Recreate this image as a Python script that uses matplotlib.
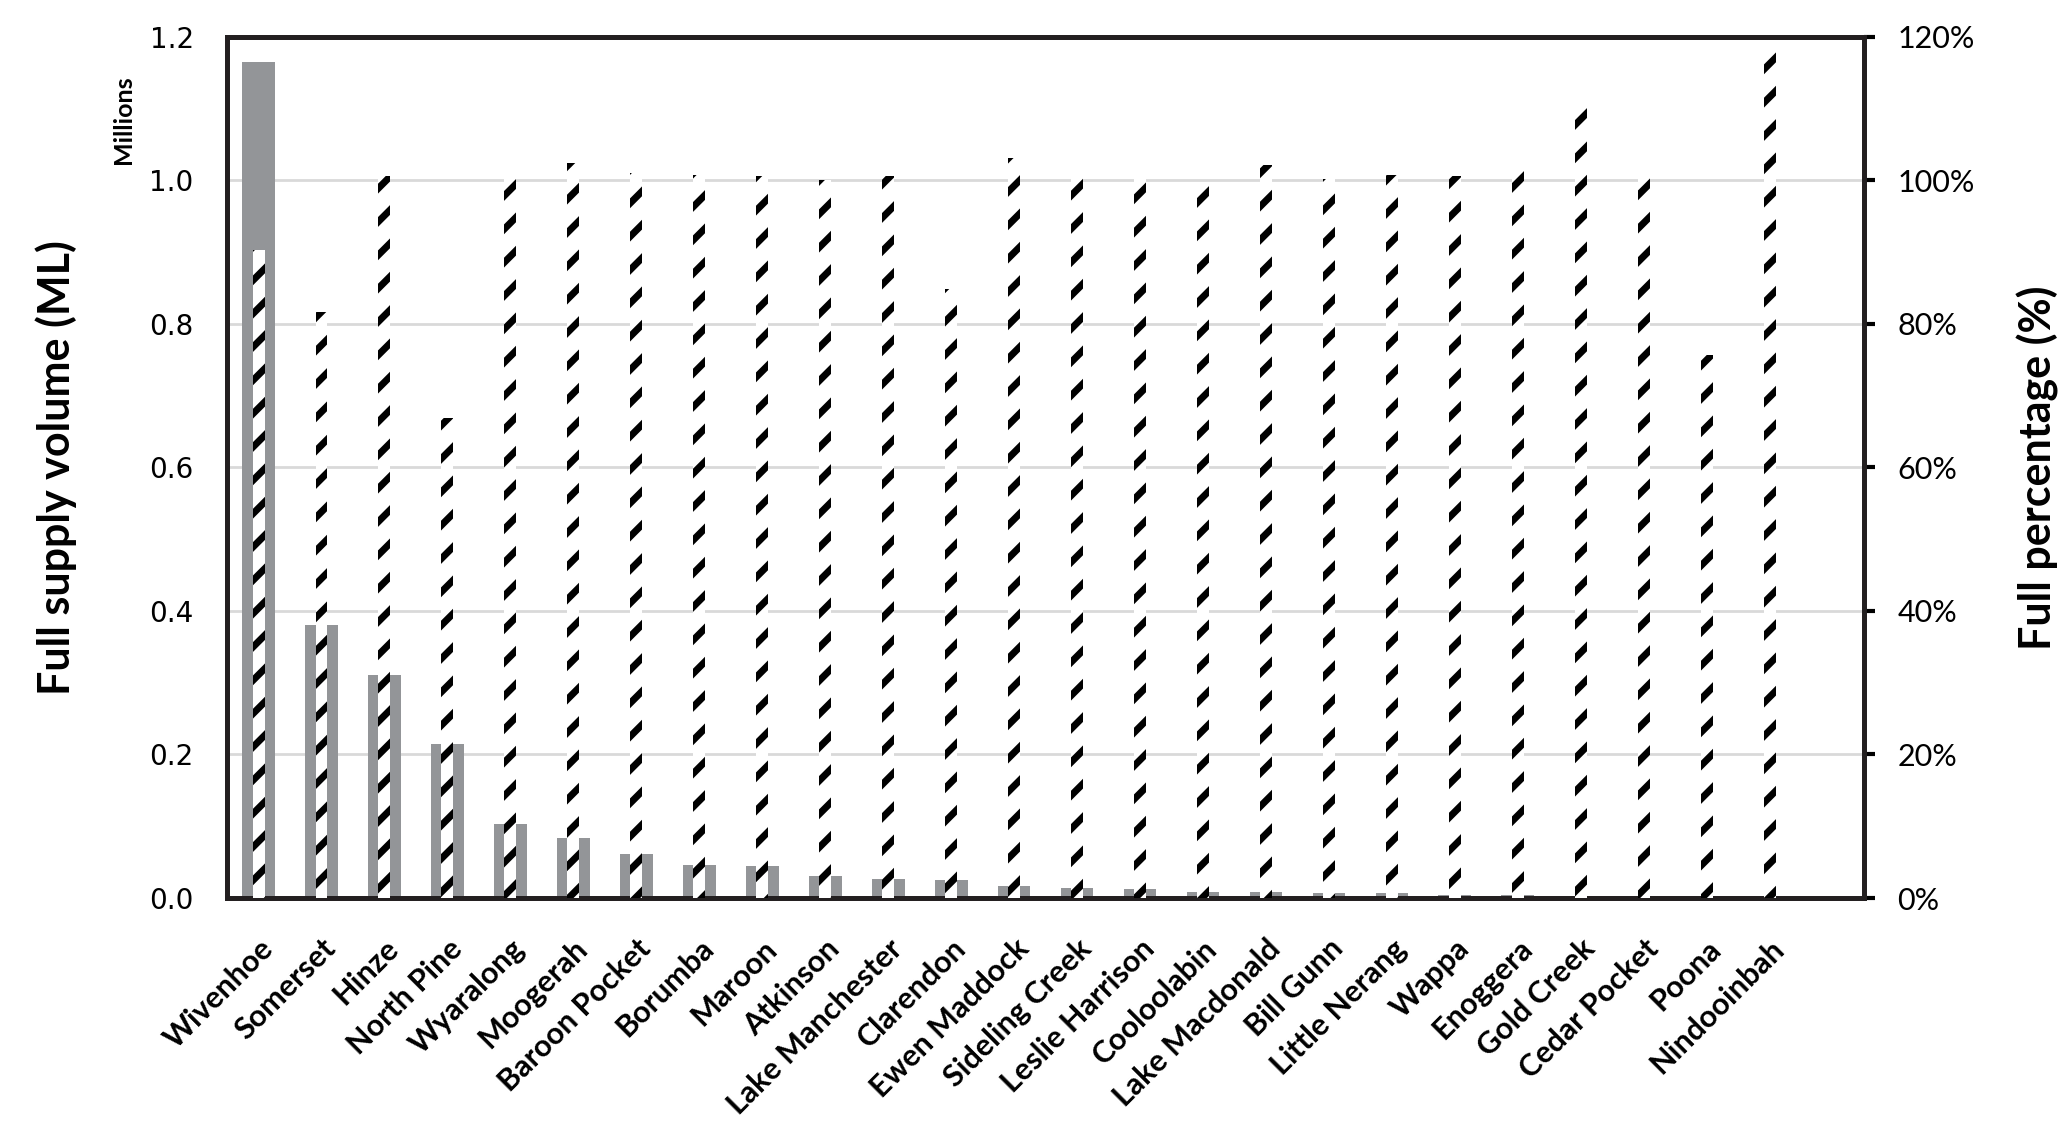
import numpy as np
import matplotlib
matplotlib.use('Agg')
import matplotlib.pyplot as plt
from matplotlib.ticker import FuncFormatter

# Data
# ----
dams = ['Wivenhoe', 'Somerset', 'Hinze', 'North Pine', 'Wyaralong', 'Moogerah',
        'Baroon Pocket', 'Borumba', 'Maroon', 'Atkinson', 'Lake Manchester',
        'Clarendon', 'Ewen Maddock', 'Sideling Creek', 'Leslie Harrison',
        'Cooloolabin', 'Lake Macdonald', 'Bill Gunn', 'Little Nerang', 'Wappa',
        'Enoggera', 'Gold Creek', 'Cedar Pocket', 'Poona', 'Nindooinbah']

# full supply volume, millions of ML
fsv = [1.165, 0.380, 0.311, 0.2145, 0.103, 0.0838, 0.0615, 0.0462, 0.0447,
       0.0308, 0.0263, 0.0245, 0.0166, 0.0144, 0.0123, 0.0082, 0.0080,
       0.0069, 0.0067, 0.0047, 0.0043, 0.0008, 0.0007, 0.0007, 0.0003]

# full percentage (%)
pct = [90.3, 81.7, 100.6, 66.9, 101.7, 102.5, 101.1, 100.7, 100.6, 100.1,
       100.6, 84.9, 103.1, 100.7, 100.7, 99.6, 102.2, 100.2, 100.7, 100.6,
       102.3, 110.5, 100.6, 75.7, 119.1]

vol_ticks = [0.0, 0.2, 0.4, 0.6, 0.8, 1.0, 1.2]
pct_ticks = [0, 20, 40, 60, 80, 100, 120]

# Figure settings
# ---------------
grey_col = '#939598'
grid_col = '#d9d9d9'
spine_w = 3.5
x = np.arange(len(dams))

plt.rcParams['hatch.linewidth'] = 5.0

fig = plt.figure(figsize=(20.68, 11.37), dpi=100)
ax1 = fig.add_axes([0.1098, 0.2102, 0.7916, 0.7573])
ax2 = ax1.twinx()

# volume bars
ax1.bar(x, fsv, width=0.52, color=grey_col, zorder=2)
ax1.set_ylim(0, 1.2)
ax1.set_yticks(vol_ticks)
ax1.yaxis.set_major_formatter(FuncFormatter(lambda v, p: '%.1f' % v))
ax1.set_xlim(-0.5, 25.5)
ax1.set_xticks(x)
ax1.set_xticklabels(dams, rotation=45, ha='right', rotation_mode='anchor',
                    fontsize=22, fontweight='bold', family='Lato')
ax1.tick_params(axis='x', length=0, pad=26)
ax1.tick_params(axis='y', length=0, pad=24, labelsize=20)
for lab in ax1.get_yticklabels():
    lab.set_family('DejaVu Sans')
ax1.grid(axis='y', color=grid_col, linewidth=2, zorder=0)
ax1.set_axisbelow(True)
ax1.set_ylabel('Full supply volume (ML)', fontsize=31, fontweight='bold',
               family='Lato', labelpad=52)
ax1.text(-0.0635, 0.955, 'Millions', transform=ax1.transAxes, rotation=90,
         ha='center', va='top', fontsize=18, fontweight='bold', family='Lato')

# percentage bars
ax2.bar(x, pct, width=0.19, facecolor='white', edgecolor='black',
        linewidth=0, hatch='/', zorder=3)
ax2.set_ylim(0, 120)
ax2.set_yticks(pct_ticks)
ax2.yaxis.set_major_formatter(FuncFormatter(lambda v, p: '%d%%' % v))
ax2.tick_params(axis='y', direction='out', length=8, width=3, pad=16,
                labelsize=22)
for lab in ax2.get_yticklabels():
    lab.set_family('Lato')
ax2.set_ylabel('Full percentage (%)', fontsize=31, fontweight='bold',
               family='Lato', labelpad=30)

for ax in (ax1, ax2):
    for s in ax.spines.values():
        s.set_linewidth(spine_w)
        s.set_color('#231f20')

plt.savefig('out.png', dpi=100, facecolor='w')
